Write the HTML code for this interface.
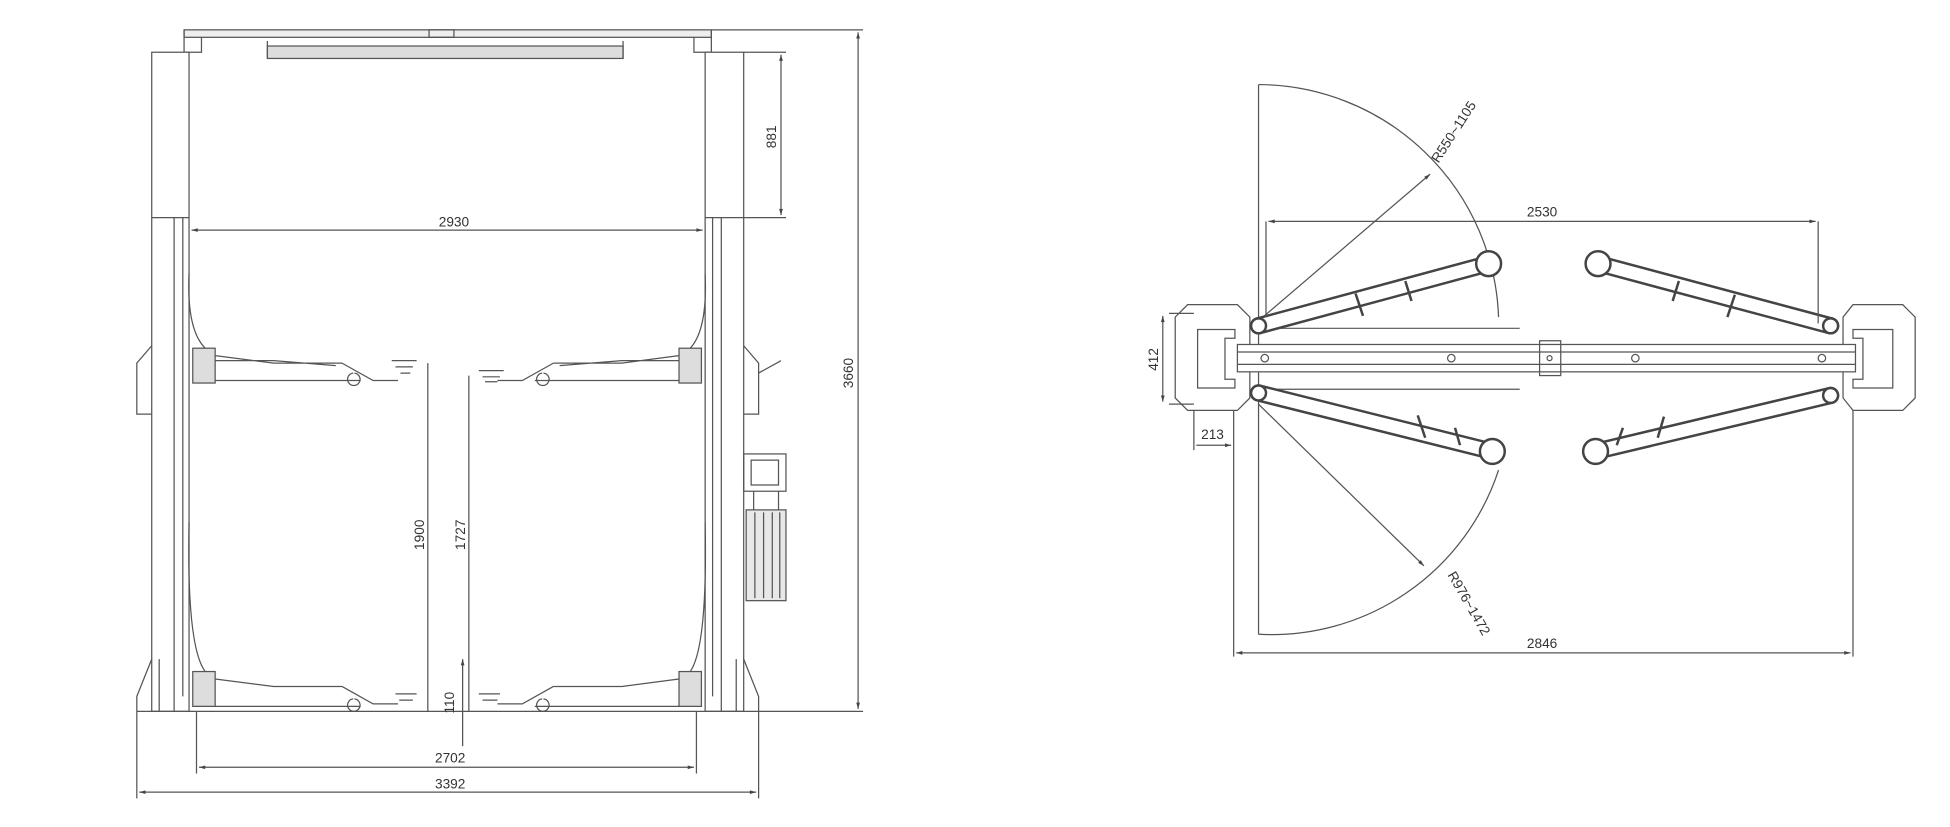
<!DOCTYPE html>
<html><head><meta charset="utf-8"><style>
html,body{margin:0;padding:0;background:#fff;}
svg{display:block}
text{font-family:"Liberation Sans Narrow","Liberation Sans",sans-serif;font-size:11px;fill:#333}
</style></head><body>
<svg width="1950" height="827" viewBox="0 0 1568 665" xmlns="http://www.w3.org/2000/svg">
<defs>
<marker id="a" viewBox="0 0 10 10" refX="10" refY="5" markerWidth="7" markerHeight="5" orient="auto-start-reverse"><path d="M0,2 L10,5 L0,8z" fill="#444"/></marker>
</defs>
<g fill="none" stroke="#555" stroke-width="1">
<!-- ===== LEFT VIEW ===== -->
<!-- top beam -->
<rect x="148" y="24" width="424" height="6" fill="#eee"/>
<path d="M148,24 V42 H162 V30 M572,24 V42 H558 V30"/>
<rect x="215" y="37" width="286" height="10" fill="#ddd"/>
<path d="M215,33 V47 M501,33 V47"/>
<rect x="345" y="24" width="20" height="6"/>
<!-- columns -->
<rect x="122" y="42" width="30" height="530" fill="#fff"/>
<path d="M122,175 H152 M140,175 V572 M147,175 V560"/>
<rect x="567" y="42" width="31" height="530" fill="#fff"/>
<path d="M567,175 H598 M580,175 V572 M573,175 V560"/>
<!-- cables -->
<path d="M152,220 Q150,265 165,280 M567,220 Q569,265 555,280 M152,420 Q150,520 165,540 M567,420 Q569,520 555,540"/>
<!-- side brackets -->
<path d="M122,278 L110,292 V333 H122 M598,278 L610,292 V333 H598 M610,300 L628,290"/>
<!-- feet -->
<path d="M122,530 L110,560 V572 M598,530 L610,560 V572 M128,530 V572 M592,530 V572"/>
<path d="M110,572 H610"/>
<!-- upper arms -->
<rect x="155" y="280" width="18" height="28" fill="#ddd"/>
<path d="M173,286 L220,292 H275 M173,306 H290 M173,290 H220 L270,294"/>
<path d="M275,292 L300,306 H320 M284,300 a5,5 0 1,0 1,0"/>
<path d="M315,290 H335 M318,295 H332 M322,300 H330"/>
<rect x="546" y="280" width="18" height="28" fill="#ddd"/>
<path d="M546,286 L500,292 H445 M546,306 H430 M546,290 H500 L450,294"/>
<path d="M445,292 L420,306 H400 M436,300 a5,5 0 1,0 1,0"/>
<path d="M385,298 H405 M388,303 H402 M390,307 H400"/>
<!-- lower arms -->
<rect x="155" y="540" width="18" height="28" fill="#ddd"/>
<path d="M173,546 L220,552 H275 M173,568 H290 M275,552 L300,566 H320 M284,562 a5,5 0 1,0 1,0 M318,558 H335 M321,563 H332"/>
<rect x="546" y="540" width="18" height="28" fill="#ddd"/>
<path d="M546,546 L500,552 H445 M546,568 H430 M445,552 L420,566 H400 M436,562 a5,5 0 1,0 1,0 M385,558 H402 M388,563 H400"/>
<!-- motor -->
<rect x="598" y="365" width="34" height="30"/>
<rect x="604" y="370" width="22" height="20"/>
<path d="M606,395 V410 M626,395 V410"/>
<rect x="600" y="410" width="32" height="73" fill="#e8e8e8"/>
<path d="M607,412 V481 M614,412 V481 M621,412 V481 M627,412 V481"/>
<!-- dims -->
<path d="M598,42 H632 M598,175 H632"/>
<line x1="628" y1="44" x2="628" y2="173" marker-start="url(#a)" marker-end="url(#a)"/>
<path d="M572,24 H694 M610,572 H694"/>
<line x1="690" y1="26" x2="690" y2="570" marker-start="url(#a)" marker-end="url(#a)"/>
<line x1="154" y1="185" x2="565" y2="185" marker-start="url(#a)" marker-end="url(#a)"/>
<line x1="344" y1="292" x2="344" y2="572"/>
<line x1="377" y1="302" x2="377" y2="572"/>
<line x1="372" y1="530" x2="372" y2="600" marker-start="url(#a)"/>
<path d="M158,572 V622 M560,572 V622 M110,572 V642 M610,572 V642"/>
<line x1="160" y1="617" x2="558" y2="617" marker-start="url(#a)" marker-end="url(#a)"/>
<line x1="112" y1="637" x2="608" y2="637" marker-start="url(#a)" marker-end="url(#a)"/>

<!-- ===== RIGHT VIEW ===== -->
<path d="M1012,68 V510"/>
<path d="M1012,68 A194,194 0 0 1 1205,255"/>
<path d="M1012,510 A192,192 0 0 0 1205,378"/>
<line x1="1012" y1="258" x2="1150" y2="140" marker-end="url(#a)"/>
<line x1="1012" y1="325" x2="1145" y2="455" marker-end="url(#a)"/>
<path d="M1010,264 H1222 M1010,313 H1222"/>
<!-- posts -->
<path d="M955,245 H995 L1005,255 V320 L995,330 H955 L945,320 V255Z" fill="#fff"/>
<path d="M963,265 H993 V272 H985 V305 H993 V312 H963Z"/>
<path d="M1530,245 H1490 L1482,255 V320 L1490,330 H1530 L1540,320 V255Z" fill="#fff"/>
<path d="M1522,265 H1490 V272 H1498 V305 H1490 V312 H1522Z"/>
<!-- beam -->
<rect x="995" y="277" width="497" height="22" fill="#fff"/>
<path d="M995,283 H1492 M995,293 H1492"/>
<rect x="1238" y="274" width="17" height="28"/>
<g fill="#fff">
<circle cx="1017" cy="288" r="3"/><circle cx="1167" cy="288" r="3"/><circle cx="1246" cy="288" r="2"/><circle cx="1315" cy="288" r="3"/><circle cx="1465" cy="288" r="3"/>
</g>
<!-- arms -->
<g stroke="#444" stroke-width="14" stroke-linecap="round">
<line x1="1012" y1="262" x2="1197" y2="212"/><line x1="1012" y1="316" x2="1200" y2="363"/>
<line x1="1472" y1="262" x2="1285" y2="212"/><line x1="1472" y1="318" x2="1283" y2="363"/>
</g>
<g stroke="#fff" stroke-width="10" stroke-linecap="round">
<line x1="1012" y1="262" x2="1197" y2="212"/><line x1="1012" y1="316" x2="1200" y2="363"/>
<line x1="1472" y1="262" x2="1285" y2="212"/><line x1="1472" y1="318" x2="1283" y2="363"/>
</g>
<g stroke="#444" stroke-width="2" fill="#fff">
<circle cx="1197" cy="212" r="10"/><circle cx="1200" cy="363" r="10"/><circle cx="1285" cy="212" r="10"/><circle cx="1283" cy="363" r="10"/>
<circle cx="1012" cy="262" r="6"/><circle cx="1012" cy="316" r="6"/><circle cx="1472" cy="262" r="6"/><circle cx="1472" cy="318" r="6"/>
</g>
<g stroke="#444" stroke-width="2">
<path d="M1090,236 L1096,254 M1130,226 L1135,242 M1140,334 L1146,352 M1170,344 L1174,358 M1395,237 L1389,255 M1350,226 L1345,242 M1338,335 L1333,352 M1305,344 L1300,358"/>
</g>
<!-- right dims -->
<path d="M1018,178 V255 M1462,178 V260 M992,330 V528 M1490,330 V528 M940,252 H960 M940,325 H960 M960,330 V362"/>
<line x1="1020" y1="178" x2="1460" y2="178" marker-start="url(#a)" marker-end="url(#a)"/>
<line x1="994" y1="525" x2="1488" y2="525" marker-start="url(#a)" marker-end="url(#a)"/>
<line x1="935" y1="254" x2="935" y2="323" marker-start="url(#a)" marker-end="url(#a)"/>
<line x1="962" y1="358" x2="990" y2="358" marker-end="url(#a)"/>
</g>
<!-- labels -->
<text x="365" y="182" text-anchor="middle">2930</text>
<text transform="translate(624,110) rotate(-90)" text-anchor="middle">881</text>
<text transform="translate(686,300) rotate(-90)" text-anchor="middle">3660</text>
<text transform="translate(341,430) rotate(-90)" text-anchor="middle">1900</text>
<text transform="translate(374,430) rotate(-90)" text-anchor="middle">1727</text>
<text transform="translate(365,565) rotate(-90)" text-anchor="middle">110</text>
<text x="362" y="613" text-anchor="middle">2702</text>
<text x="362" y="634" text-anchor="middle">3392</text>
<text x="1240" y="174" text-anchor="middle">2530</text>
<text x="1240" y="521" text-anchor="middle">2846</text>
<text transform="translate(931,289) rotate(-90)" text-anchor="middle">412</text>
<text x="975" y="353" text-anchor="middle">213</text>
<text transform="translate(1172,108) rotate(-57)" text-anchor="middle">R550~1105</text>
<text transform="translate(1178,487) rotate(60)" text-anchor="middle">R976~1472</text>
</svg>
</body></html>
